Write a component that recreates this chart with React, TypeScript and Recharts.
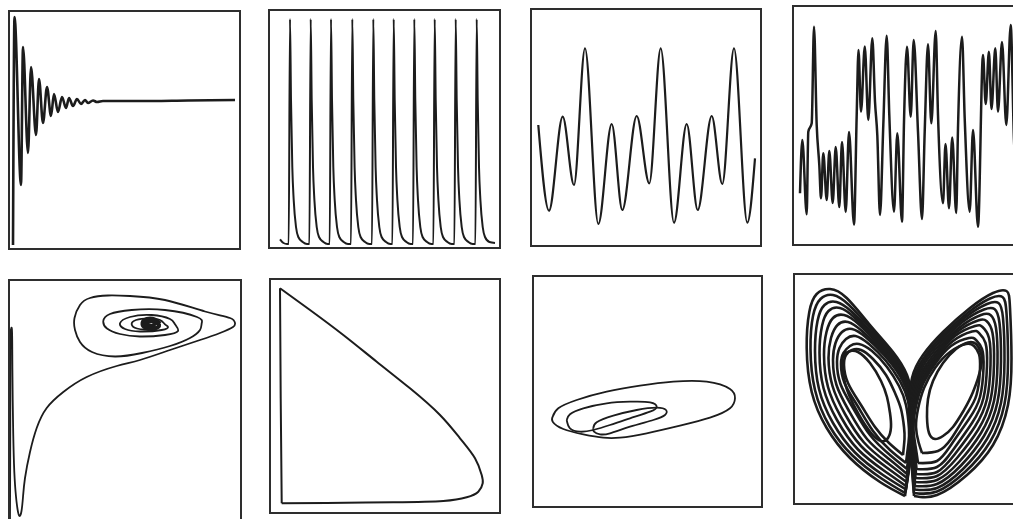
import React from 'react';
import { LineChart, Line, XAxis, YAxis } from 'recharts';

type Pt = [number, number];

// row 1: time series (t, value)
const dampedSignal: Pt[] = [
  [5, 5], [6.5, 233], [13, 65], [15, 203], [20, 97], [23, 183], [28, 115], [31, 171], [35, 127],
  [39, 163], [43, 134], [46, 156], [50, 138], [54, 153], [58, 142], [61, 152], [65, 144], [69, 151],
  [73, 146], [77, 150], [80, 147], [85, 149.5], [89, 148], [95, 149], [130, 149], [180, 149.5], [227, 150],
];

const spikeTrain: Pt[] = [
  [12, 9.7], [15.5, 6], [19, 5],
  [20.7, 5], [22, 230], [23, 149], [24.3, 82], [25.7, 49], [28, 22], [30.3, 12], [34.7, 7], [39, 5],
  [41.4, 5], [42.7, 230], [43.7, 149], [45, 82], [46.4, 49], [48.7, 22], [51, 12], [55.4, 7], [59.7, 5],
  [61.7, 5], [63, 230], [64, 149], [65.3, 82], [66.7, 49], [69, 22], [71.3, 12], [75.7, 7], [80, 5],
  [83, 5], [84.3, 230], [85.3, 149], [86.6, 82], [88, 49], [90.3, 22], [92.6, 12], [97, 7], [101.3, 5],
  [104, 5], [105.3, 230], [106.3, 149], [107.6, 82], [109, 49], [111.3, 22], [113.6, 12], [118, 7], [122.3, 5],
  [124.4, 5], [125.7, 230], [126.7, 149], [128, 82], [129.4, 49], [131.7, 22], [134, 12], [138.4, 7], [142.7, 5],
  [145, 5], [146.3, 230], [147.3, 149], [148.6, 82], [150, 49], [152.3, 22], [154.6, 12], [159, 7], [163.3, 5],
  [165.4, 5], [166.7, 230], [167.7, 149], [169, 82], [170.4, 49], [172.7, 22], [175, 12], [179.4, 7], [183.7, 5],
  [186.4, 5], [187.7, 230], [188.7, 149], [190, 82], [191.4, 49], [193.7, 22], [196, 12], [200.4, 7], [204.7, 5],
  [207.4, 5], [208.7, 230], [209.7, 149], [211, 82], [212.4, 49], [214.7, 22], [217, 12], [221.4, 7], [227, 6],
];

const periodicWave: Pt[] = [
  [8.3, 122], [19, 36.3], [32.7, 130.3], [44, 62], [55, 198.7], [68.3, 23], [81.7, 123], [92.3, 37],
  [106.7, 131], [119.3, 63.7], [130.7, 198.7], [144, 24.3], [156.7, 123], [167.7, 37], [181.7, 131],
  [192.3, 63], [204, 198.7], [217.3, 24.3], [225, 88.7],
];

const chaoticSignal: Pt[] = [
  [8, 52.7], [10.3, 106], [14.7, 31.7], [16.3, 114.3], [19.7, 122.7], [22, 219.3], [24.7, 121], [27.3, 81],
  [29, 47.7], [31.3, 92.7], [34.7, 46], [37.3, 95], [40.7, 43], [43.7, 99], [47.3, 39], [50, 104],
  [53.7, 34], [57, 114], [62, 21.5], [64.7, 131], [66.5, 196], [69, 134.3], [72.8, 199.5], [76.3, 126],
  [80.3, 207.7], [83, 144.3], [85.3, 111], [88, 31], [91.3, 121], [94.7, 210.3], [97.3, 131], [102, 34.3],
  [105.3, 112.7], [110, 24.3], [112, 124.3], [115, 199.3], [118.7, 129.3], [121.7, 206], [126, 114.3],
  [130, 27], [132.7, 114.3], [136, 201.7], [139.3, 122.7], [143.7, 215], [146, 131], [151, 42.7],
  [153.5, 102], [157, 37.7], [160.2, 108.5], [164.2, 33], [166, 117.7], [170, 209.3], [172.7, 127.7],
  [177.7, 34.3], [181, 116], [186, 19.3], [191, 191], [193.7, 142], [196.9, 194.3], [199.5, 137],
  [203.3, 197.7], [206, 134.3], [210, 204], [214.3, 121], [218.7, 221], [222, 106], [226, 60],
];

// row 2: phase portraits (x, y)
const spiralPath: Pt[] = [
  [2, 0], [2.2, 60], [2.4, 150], [2.6, 186], [3.3, 191], [4.1, 186], [4.4, 150], [5, 99], [6, 55],
  [7.5, 28], [9.5, 10], [11.5, 3], [13.5, 8], [15, 22], [17, 41], [22, 67], [28.7, 91], [38.7, 111],
  [55.3, 127], [78.7, 142], [108.7, 153], [132, 159], [162, 169], [192, 179], [212, 186], [225, 192],
  [227, 196], [222, 201], [197, 207.5], [157, 219], [122, 223], [100, 223.5], [82, 221], [72, 214],
  [66.5, 201], [67, 189], [72, 177], [84, 167], [107, 162.5], [134, 166], [162, 173], [182, 181],
  [192, 189], [193.7, 195.7], [189, 202], [157, 209], [123.7, 209], [102, 205], [95.3, 198], [99, 190.5],
  [112, 185], [132, 182.5], [157, 184], [170, 188], [167, 194.7], [162, 200], [143.7, 204], [122, 202],
  [112, 195.7], [117, 190], [132, 187.5], [153.7, 189], [160, 192], [157, 194.7], [152, 199],
  [140.3, 200.7], [128, 199], [123.7, 194.7], [129, 190.5], [140.3, 189.7], [150, 191.5], [152, 195],
];
const spiralCore: Pt[] = [
  [152, 195.5], [147, 199.5], [139, 200], [134.5, 196], [138, 191], [147, 190.5], [151, 194],
  [146, 197.5], [140, 197], [138.5, 194.5], [144, 193], [147, 195.5],
];

const cycleCurve: Pt[] = [
  [11, 225.7], [41, 204], [74.3, 179], [107.7, 152.3], [141, 125.7], [171, 99], [191, 75.7], [206, 55.7],
  [212.7, 39], [213.7, 30.7], [209.3, 22.3], [197.7, 16.7], [174.3, 13], [124.3, 11.7], [57.7, 11], [12.7, 10.7],
];
const cycleSide: Pt[] = [[12.7, 10.7], [11.7, 115.7], [11, 225.7]];

const loopOuter: Pt[] = [
  [20.7, 91.3], [26.3, 99.7], [44.7, 108], [74.7, 116.3], [108, 122.3], [141.3, 126.3], [174.7, 126.3],
  [198, 119], [203, 109.7], [198, 99.7], [178, 90.3], [148, 82.3], [114.7, 74.7], [88, 70.3], [71.3, 70.3],
  [51.3, 73.7], [31.3, 79], [20.7, 86.3], [20.7, 91.3],
];
const loopMiddle: Pt[] = [
  [34.7, 88], [38, 93.7], [51.3, 99.7], [74.7, 104.7], [98, 106.3], [118, 105.7], [124.7, 101.3],
  [118, 96.3], [98, 89.7], [78, 83], [61.3, 78], [48, 76.3], [38, 79.7], [34.7, 88],
];
const loopInner: Pt[] = [
  [61.3, 79.7], [64.7, 85.7], [81.3, 92.3], [104.7, 98], [124.7, 100.3], [134, 98], [133, 93],
  [121.3, 88], [98, 81.3], [78, 74.7], [68, 73.7], [62, 76.3], [61.3, 79.7],
];

// butterfly: each wing read as nested turns, outermost first
const leftWing: Pt[][] = [
  [[112, 9], [87, 23], [57, 47], [33.7, 77], [18.7, 113], [13.7, 157], [16.3, 193], [23.7, 211], [37, 216], [53.7, 207], [77, 180], [100, 153], [114, 130], [119, 100], [117, 50], [112, 9]],
  [[112, 12], [88.5, 26.5], [59.5, 49.5], [36.5, 79], [22, 115], [17.5, 156], [20, 189], [27.5, 206], [40, 210], [56, 200], [79, 175], [101, 149], [114.5, 126], [119.5, 96], [117.5, 50], [112, 12]],
  [[113, 15.5], [90, 30], [62, 52.5], [40, 82], [26, 116], [22, 154], [24.5, 184], [31.5, 200], [43.5, 203], [59, 193], [81, 170], [102.5, 145], [115, 122], [120, 92], [118, 52], [113, 15.5]],
  [[113, 19], [91.5, 34], [65, 55.5], [44, 85], [30.5, 117], [26.5, 152], [29, 179], [35.5, 194], [47, 197], [62, 187], [83.5, 165], [104, 141], [115.5, 118], [120, 89], [118, 54], [113, 19]],
  [[113.5, 23], [93, 38], [68, 59], [48, 88], [35, 118], [31, 150], [33.5, 173], [40, 187], [51, 190], [65.5, 181], [86, 160], [105, 137], [116, 114], [120, 86], [118, 56], [113.5, 23]],
  [[114, 27], [94.5, 42], [71, 62.5], [52, 91], [39.5, 119], [35.5, 147], [38, 167], [44.5, 180], [55, 183], [69, 174], [88.5, 155], [106, 133], [116, 110], [119.5, 83], [118, 58], [114, 27]],
  [[114, 31], [96, 46], [74, 66], [56, 94], [43.5, 120], [40, 145], [42.5, 162], [49, 173], [59, 176], [72.5, 168], [91, 150], [107, 129], [116, 107], [119, 80], [117.5, 60], [114, 31]],
  [[114, 36], [97, 50], [77, 70], [60, 97], [47.5, 121], [44, 143], [46.5, 157], [53, 166], [62.5, 169], [76, 161], [93, 144], [107, 124], [115, 104], [118, 78], [117, 62], [114, 36]],
  [[113, 42], [97, 55], [80, 74], [64, 100], [51.5, 122], [48, 141], [50.5, 152], [57, 159], [66, 161], [79, 154], [94, 138], [106, 119], [113, 100], [116, 76], [115.5, 62], [113, 42]],
  [[110, 50], [96, 62], [82, 78], [68, 100], [55, 122], [51, 140], [53, 150], [59, 155], [68, 155], [80, 146], [93, 130], [102, 112], [108, 96], [111, 78], [111.5, 66], [110, 50]],
  [[52, 122], [49, 140], [51, 150], [57, 154], [65, 153], [77, 142], [88, 124], [94, 108], [97, 92], [98, 78], [95, 67], [88, 64], [78, 72], [66, 90], [56, 110], [52, 122]],
];

const rightWing: Pt[][] = [
  [[121, 9], [144, 10], [174, 30], [200, 60], [215, 100], [218.5, 147], [217, 197], [213.5, 214], [200, 212], [177, 197], [150, 173], [130, 150], [119, 127], [116, 92], [118, 48], [121, 9]],
  [[121, 12], [144, 13.5], [172, 33], [197, 63], [211.5, 101], [215, 146], [213.5, 192], [209.5, 208], [197, 206.5], [174.5, 192], [149, 169], [130, 146], [119.5, 123], [116.5, 90], [118.5, 48], [121, 12]],
  [[121.5, 15.5], [144, 17], [170, 36], [194, 66], [208, 102], [211.5, 145], [210, 187], [205.5, 202], [194, 201], [172, 187.5], [148, 165], [130, 142.5], [120, 119], [117, 88], [119, 49], [121.5, 15.5]],
  [[122, 19], [144, 21], [168, 39.5], [191, 69], [204.5, 103], [208, 144], [206.5, 182], [201.5, 196], [191, 195.5], [169.5, 183], [147, 161], [130, 139], [120.5, 115.5], [117.5, 86], [119.5, 50], [122, 19]],
  [[122, 23], [144, 25], [166, 43], [188, 72], [201, 104], [204.5, 142.5], [203, 177], [197.5, 190], [188, 190], [167, 178], [146, 157], [130, 135], [121, 112], [118, 84], [120, 52], [122, 23]],
  [[122.5, 27], [144, 29], [164, 47], [185, 75], [197.5, 105], [201, 141], [199.5, 172], [193.5, 184], [185, 184.5], [164.5, 173.5], [145, 153], [130, 131.5], [121.5, 108.5], [118.5, 82], [120.5, 53], [122.5, 27]],
  [[123, 31], [144, 33], [162, 51], [182, 78.5], [194, 106], [197.5, 140], [196, 167], [189.5, 178], [182, 179], [162, 169], [144, 149], [130, 128], [122, 105], [119, 80], [121, 55], [123, 31]],
  [[123.5, 36], [144, 38], [160, 55], [179, 82], [190.5, 107], [194, 139], [192.5, 162], [186, 172], [179, 173.5], [160, 164], [143, 145], [130, 124.5], [122.5, 102], [119.5, 78], [121.5, 57], [123.5, 36]],
  [[125, 42], [144, 44], [158, 60], [176, 86], [187, 108], [190.5, 137], [189, 156], [183, 165], [176, 167], [158, 159], [142, 141], [130, 121], [123, 99], [120.5, 77], [122.5, 59], [125, 42]],
  [[129, 52], [145, 54], [158, 66], [173, 90], [183.5, 110], [187, 136], [186, 151], [181, 159], [173, 161], [157, 153], [142, 137], [131, 117], [125, 96], [123, 78], [125.5, 63], [129, 52]],
  [[171, 95], [180, 113], [188, 138], [188, 152], [183, 161], [175, 162.5], [163, 156], [150, 142], [140, 124], [135, 106], [134, 88], [136, 72], [142, 66], [150, 69], [160, 78], [171, 95]],
];

const INK = '#1c1c1c';
const FRAME = '#2e2e2e';

const toRows = (pts: Pt[]) => pts.map(([x, y]) => ({ x, y }));

interface Series {
  data: Pt[];
  type: 'monotone' | 'natural' | 'linear';
  width?: number;
}

interface PanelProps {
  left: number;
  top: number;
  w: number;
  h: number;
  yMin?: number;
  series: Series[];
}

function Panel({ left, top, w, h, yMin = 0, series }: PanelProps) {
  return (
    <div style={{ position: 'absolute', left, top, width: w, height: h }}>
      <LineChart width={w} height={h} margin={{ top: 0, right: 0, bottom: 0, left: 0 }}>
        <XAxis type="number" dataKey="x" domain={[0, w]} allowDataOverflow hide />
        <YAxis type="number" domain={[yMin, yMin + h]} allowDataOverflow hide />
        {series.map((s, i) => (
          <Line
            key={i}
            data={toRows(s.data)}
            dataKey="y"
            type={s.type}
            stroke={INK}
            strokeWidth={s.width ?? 2}
            dot={false}
            activeDot={false}
            isAnimationActive={false}
          />
        ))}
      </LineChart>
      <div
        style={{
          position: 'absolute',
          inset: 0,
          border: `2px solid ${FRAME}`,
          pointerEvents: 'none',
        }}
      />
    </div>
  );
}

export default function App() {
  return (
    <div
      style={{
        position: 'absolute',
        left: 0,
        top: 0,
        width: 1013,
        height: 519,
        overflow: 'hidden',
        background: '#fff',
      }}
    >
      <Panel left={8} top={10} w={233} h={240} series={[{ data: dampedSignal, type: 'monotone', width: 2.6 }]} />
      <Panel left={268} top={9} w={233} h={240} series={[{ data: spikeTrain, type: 'monotone', width: 2 }]} />
      <Panel left={530} top={8} w={232} h={239} series={[{ data: periodicWave, type: 'monotone', width: 2.2 }]} />
      <Panel left={792} top={5} w={232} h={241} series={[{ data: chaoticSignal, type: 'monotone', width: 2.5 }]} />

      <Panel
        left={8}
        top={279}
        w={234}
        h={242}
        yMin={-2}
        series={[
          { data: spiralPath, type: 'natural', width: 1.8 },
          { data: spiralCore, type: 'natural', width: 4 },
        ]}
      />
      <Panel
        left={269}
        top={278}
        w={232}
        h={236}
        series={[
          { data: cycleCurve, type: 'natural', width: 2 },
          { data: cycleSide, type: 'linear', width: 2 },
        ]}
      />
      <Panel
        left={532}
        top={275}
        w={231}
        h={233}
        series={[
          { data: loopOuter, type: 'natural', width: 1.8 },
          { data: loopMiddle, type: 'natural', width: 1.8 },
          { data: loopInner, type: 'natural', width: 1.8 },
        ]}
      />
      <Panel
        left={793}
        top={273}
        w={232}
        h={232}
        series={[
          ...leftWing.map((d) => ({ data: d, type: 'natural' as const, width: 2.6 })),
          ...rightWing.map((d) => ({ data: d, type: 'natural' as const, width: 2.6 })),
        ]}
      />
    </div>
  );
}
